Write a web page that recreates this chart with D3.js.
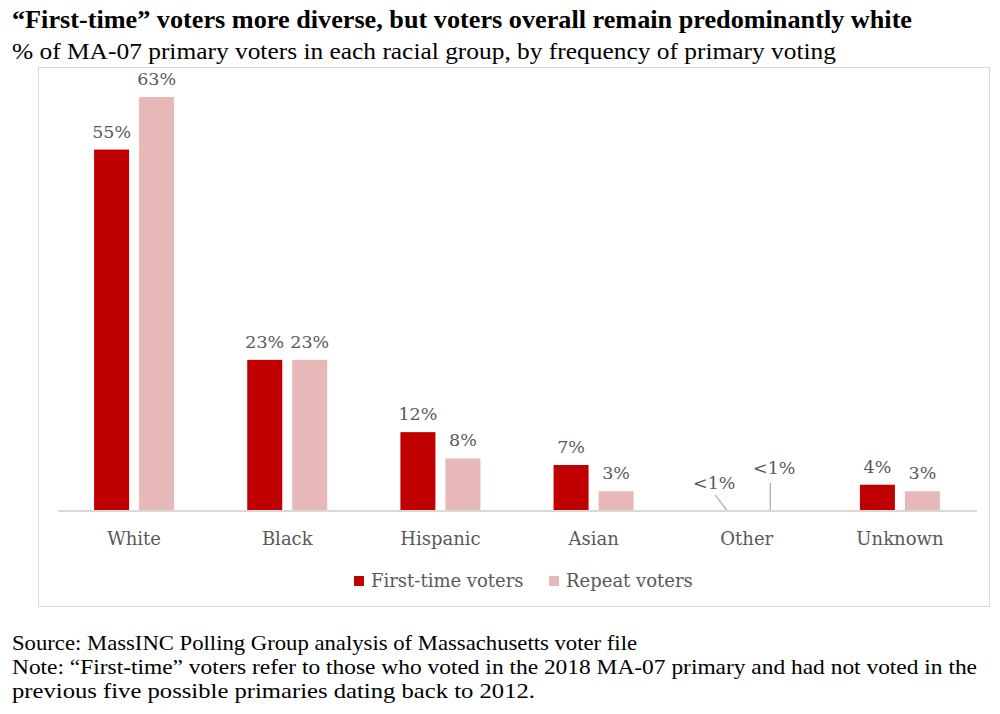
<!DOCTYPE html>
<html><head><meta charset="utf-8">
<script src="https://cdn.jsdelivr.net/npm/d3@7"></script>
<style>body{margin:0;background:#fff}svg{display:block}</style>
</head><body>
<script>
const categories = ["White","Black","Hispanic","Asian","Other","Unknown"];
const firstTime = [55,23,12,7,0.1,4];
const repeatV = [63,23,8,3,0.1,3];
const firstLabels = ["55%","23%","12%","7%","<1%","4%"];
const repeatLabels = ["63%","23%","8%","3%","<1%","3%"];
const seriesNames = ["First-time voters","Repeat voters"];
const colors = ["#C00000","#E6B9B8"];

const W=1000,H=714;
const svg=d3.select("body").append("svg").attr("width",W).attr("height",H);
const serif="'Liberation Serif', serif";
const labFont="'DejaVu Serif', serif";
const labSize=17.5, catSize=18;

function txt(s,x,y,size,len,bold){
  svg.append("text").attr("x",x).attr("y",y).attr("font-family",serif)
   .attr("font-size",size).attr("font-weight",bold?"bold":"normal").attr("fill","#000")
   .attr("textLength",len).attr("lengthAdjust","spacingAndGlyphs").text(s);
}
txt("\u201CFirst-time\u201D voters more diverse, but voters overall remain predominantly white",12,28,25,900,true);
txt("% of MA-07 primary voters in each racial group, by frequency of primary voting",12,59,24,824,false);
txt("Source: MassINC Polling Group analysis of Massachusetts voter file",12,650,22,625,false);
txt("Note: \u201CFirst-time\u201D voters refer to those who voted in the 2018 MA-07 primary and had not voted in the",12,674,22,965,false);
txt("previous five possible primaries dating back to 2012.",12,698,22,523,false);

svg.append("rect").attr("x",38.5).attr("y",67.5).attr("width",951).attr("height",539)
  .attr("fill","none").attr("stroke","#d9d9d9").attr("stroke-width",1);

const x=d3.scaleBand().domain(categories).range([57.5,976.5]);
const y=d3.scaleLinear().domain([0,63]).range([511,97]);
const bw=35,gap=10;

const g=svg.append("g");
const data=categories.map((c,i)=>({c,v:[firstTime[i],repeatV[i]],l:[firstLabels[i],repeatLabels[i]]}));
data.forEach(d=>{
  const cx=x(d.c)+x.bandwidth()/2;
  [0,1].forEach(k=>{
    const bx = k===0 ? cx-gap/2-bw : cx+gap/2;
    g.append("rect").attr("x",bx).attr("y",y(d.v[k])).attr("width",bw)
      .attr("height",y(0)-y(d.v[k])).attr("fill",colors[k]);
    if(d.c!=="Other"){
      g.append("text").attr("x",bx+bw/2).attr("y",y(d.v[k])-12).attr("text-anchor","middle")
       .attr("font-family",labFont).attr("font-size",labSize).attr("fill","#595959").text(d.l[k]);
    }
  });
});
// Other labels with leader lines
{
  const cx=x("Other")+x.bandwidth()/2;
  const b0=cx-gap/2-bw/2, b1=cx+gap/2+bw/2;
  g.append("line").attr("x1",b0-9).attr("y1",y(0)-16).attr("x2",b0+3).attr("y2",y(0)).attr("stroke","#a6a6a6").attr("stroke-width",1.2);
  g.append("text").attr("x",b0-10).attr("y",y(0)-22).attr("text-anchor","middle")
   .attr("font-family",labFont).attr("font-size",labSize).attr("fill","#595959").text(firstLabels[4]);
  g.append("line").attr("x1",b1+1).attr("y1",y(0)-28).attr("x2",b1+1).attr("y2",y(0)).attr("stroke","#a6a6a6").attr("stroke-width",1.2);
  g.append("text").attr("x",b1+5).attr("y",y(0)-37).attr("text-anchor","middle")
   .attr("font-family",labFont).attr("font-size",labSize).attr("fill","#595959").text(repeatLabels[4]);
}

const ax=svg.append("g").attr("transform",`translate(0,${y(0)-0.5})`)
  .call(d3.axisBottom(x).tickSize(0).tickPadding(22));
ax.select(".domain").attr("stroke","#d9d9d9").attr("stroke-width",2);
ax.selectAll("text").attr("font-family",labFont).attr("font-size",catSize).attr("fill","#595959");

// legend
const leg=svg.append("g");
const lx=[354,549];
seriesNames.forEach((n,i)=>{
  leg.append("rect").attr("x",lx[i]).attr("y",576).attr("width",10).attr("height",10).attr("fill",colors[i]);
  leg.append("text").attr("x",lx[i]+17).attr("y",587).attr("font-family",labFont).attr("font-size",catSize)
   .attr("fill","#595959").text(n);
});
</script>
</body></html>
